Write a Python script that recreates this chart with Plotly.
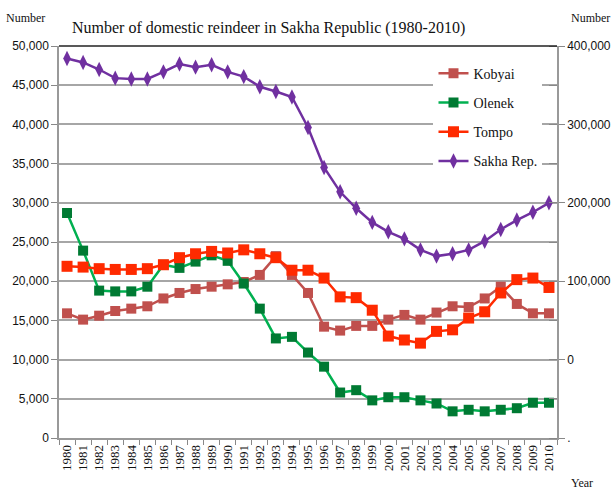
import plotly.graph_objects as go

years = [str(y) for y in range(1980, 2011)]

kobyai = [15900, 15100, 15600, 16200, 16500, 16800, 17800, 18500, 19000, 19300,
          19600, 19900, 20800, 23200, 20800, 18500, 14200, 13700, 14300, 14300,
          15100, 15700, 15100, 16000, 16800, 16700, 17800, 19300, 17100, 15900, 15900]
olenek = [28700, 23900, 18800, 18700, 18700, 19300, 22100, 21700, 22500, 23300,
          22600, 19700, 16500, 12700, 12900, 10900, 9100, 5800, 6100, 4800,
          5200, 5200, 4800, 4400, 3400, 3600, 3400, 3600, 3800, 4500, 4500]
tompo = [21900, 21800, 21600, 21500, 21500, 21600, 22100, 23000, 23500, 23800,
         23600, 24000, 23500, 23000, 21400, 21400, 20400, 18000, 17900, 16300,
         13000, 12500, 12100, 13600, 13800, 15300, 16100, 18500, 20200, 20400, 19200]
sakha = [384000, 379000, 370000, 359000, 358000, 358000, 367000, 377000, 373000, 376000,
         367000, 361000, 348000, 342000, 335000, 296000, 245000, 214000, 193000, 175000,
         163000, 154000, 140000, 132000, 135000, 140000, 151000, 166000, 178000, 188000, 200000]

left_ticks = list(range(0, 50001, 5000))
right_ticks = [-100000, 0, 100000, 200000, 300000, 400000]
right_text = [".", "0", "100,000", "200,000", "300,000", "400,000"]

serif = "Liberation Serif, Times New Roman, serif"
sans = "Liberation Sans, Arial, sans-serif"

fig = go.Figure()

series = [
    ("Kobyai", kobyai, "#C0504D", "#C0504D", "square", 10, "y"),
    ("Olenek", olenek, "#00B050", "#007A33", "square", 10, "y"),
    ("Tompo", tompo, "#FF2A00", "#FF2A00", "square", 11, "y"),
    ("Sakha Rep.", sakha, "#7030A0", "#7030A0", "diamond-tall", 11, "y2"),
]
for name, vals, lc, mc, sym, sz, ax in series:
    fig.add_trace(go.Scatter(
        x=years, y=vals, name=name, yaxis=ax, legendgroup=name,
        mode="lines+markers",
        line=dict(color=lc, width=2.5),
        marker=dict(color=mc, symbol=sym, size=sz, line=dict(width=0)),
    ))

fig.update_layout(
    width=613, height=491,
    margin=dict(l=59, r=56, t=46, b=53, autoexpand=False),
    paper_bgcolor="white", plot_bgcolor="white",
    showlegend=True,
    legend=dict(
        x=0.752, y=0.97, xanchor="left", yanchor="top",
        bgcolor="white", borderwidth=0,
        font=dict(family=serif, size=14, color="#111"),
        tracegroupgap=8,
    ),
    xaxis=dict(
        type="category", tickson="boundaries", automargin=False,
        tickmode="linear", dtick=1, range=[-0.5, len(years) - 0.5],
        ticks="outside", ticklen=5, tickcolor="#888",
        tickangle=-90, tickfont=dict(family=serif, size=13, color="#111"),
        showgrid=False, showline=True, linecolor="#999", linewidth=1.5,
        zeroline=False,
    ),
    yaxis=dict(
        range=[0, 50000], tickvals=left_ticks, tickformat=",d", automargin=False,
        ticks="outside", ticklen=6, tickcolor="#888",
        tickfont=dict(family=sans, size=12, color="#111"),
        showgrid=True, gridcolor="#A6A6A6", gridwidth=1.5,
        showline=True, linecolor="#999", linewidth=1.5,
        zeroline=False,
    ),
    yaxis2=dict(
        overlaying="y", side="right", automargin=False,
        range=[-100000, 400000], tickvals=right_ticks, ticktext=right_text,
        ticks="outside", ticklen=6, tickcolor="#888",
        minor=dict(ticks="inside", dtick=50000, ticklen=8, tickcolor="#888"),
        tickfont=dict(family=sans, size=12, color="#111"),
        showgrid=False, showline=True, linecolor="#999", linewidth=1.5,
        zeroline=False,
    ),
    annotations=[
        dict(text="Number of domestic reindeer in Sakha Republic (1980-2010)",
             xref="paper", yref="paper", x=0.022, y=1.0, yshift=18,
             xanchor="left", yanchor="middle", showarrow=False,
             font=dict(family=serif, size=16, color="#111")),
        dict(text="Number", xref="paper", yref="paper", x=-0.068, y=1.0, yshift=28,
             xanchor="center", yanchor="middle", showarrow=False,
             font=dict(family=serif, size=12, color="#111")),
        dict(text="Number", xref="paper", yref="paper", x=1.068, y=1.0, yshift=28,
             xanchor="center", yanchor="middle", showarrow=False,
             font=dict(family=serif, size=12, color="#111")),
        dict(text="Year", xref="paper", yref="paper", x=1.05, y=0, yshift=-45,
             xanchor="center", yanchor="middle", showarrow=False,
             font=dict(family=serif, size=12, color="#111")),
    ],
    shapes=[
        dict(type="line", xref="paper", yref="paper", x0=0, x1=1, y0=1, y1=1,
             line=dict(color="#222", width=1.5)),
    ],
)

fig.write_html("out.html")
